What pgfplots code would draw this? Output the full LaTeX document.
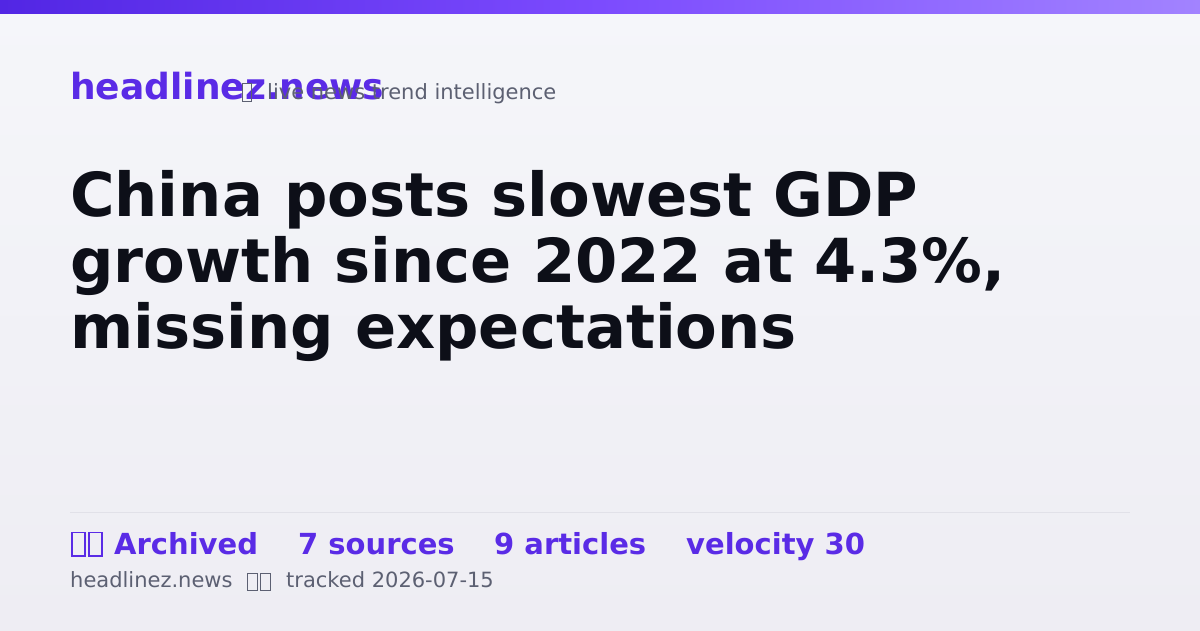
\documentclass[border=0pt]{standalone}
\usepackage{pgfplots}
\pgfplotsset{compat=1.18}
\usepackage{fontspec}
\setmainfont{DejaVu Sans}
\definecolor{bgtop}{HTML}{F5F6FA}
\definecolor{bgbot}{HTML}{EEEDF3}
\definecolor{barL}{HTML}{5226E4}
\definecolor{barM}{HTML}{7C4BFE}
\definecolor{barR}{HTML}{A283FF}
\definecolor{brand}{HTML}{5A2BE6}
\definecolor{ink}{HTML}{0D0F18}
\definecolor{muted}{HTML}{5C6072}
\definecolor{rulec}{HTML}{E1E1E8}
\begin{document}
\begin{tikzpicture}
\begin{axis}[
  width=1200pt, height=630pt, scale only axis,
  xmin=0, xmax=1200, ymin=0, ymax=630, y dir=reverse,
  hide axis, clip=false,
]
% background
\fill[top color=bgtop, bottom color=bgbot, draw=none] (axis cs:0,0) rectangle (axis cs:1200,630);
\fill[left color=barL, right color=barR, middle color=barM, draw=none] (axis cs:0,0) rectangle (axis cs:1200,13);
% brand line
\node[anchor=base west, inner sep=0pt, text=brand, font=\fontsize{36}{40}\selectfont\bfseries] at (axis cs:70,99) {headlinez.news};
\draw[muted, line width=1pt] (axis cs:242,83) rectangle (axis cs:251,101);
\node[anchor=base west, inner sep=0pt, text=muted, font=\fontsize{21}{24}\selectfont] at (axis cs:267,99) {live news trend intelligence};
% title
\node[anchor=base west, inner sep=0pt, text=ink, font=\fontsize{60.7}{66}\selectfont\bfseries] at (axis cs:70,216) {China posts slowest GDP};
\node[anchor=base west, inner sep=0pt, text=ink, font=\fontsize{60.7}{66}\selectfont\bfseries] at (axis cs:70,282) {growth since 2022 at 4.3\%,};
\node[anchor=base west, inner sep=0pt, text=ink, font=\fontsize{60.7}{66}\selectfont\bfseries] at (axis cs:70,348) {missing expectations};
% rule
\draw[rulec, line width=1pt] (axis cs:70,512.5) -- (axis cs:1130,512.5);
% stats row
\draw[brand, line width=1.4pt] (axis cs:72,532.5) rectangle (axis cs:85,556);
\draw[brand, line width=1.4pt] (axis cs:89,532.5) rectangle (axis cs:102,556);
\node[anchor=base west, inner sep=0pt, text=brand, font=\fontsize{29}{32}\selectfont\bfseries] at (axis cs:114,554) {Archived};
\node[anchor=base west, inner sep=0pt, text=brand, font=\fontsize{29}{32}\selectfont\bfseries] at (axis cs:298,554) {7 sources};
\node[anchor=base west, inner sep=0pt, text=brand, font=\fontsize{29}{32}\selectfont\bfseries] at (axis cs:494,554) {9 articles};
\node[anchor=base west, inner sep=0pt, text=brand, font=\fontsize{29}{32}\selectfont\bfseries] at (axis cs:686,554) {velocity 30};
% footer
\node[anchor=base west, inner sep=0pt, text=muted, font=\fontsize{21}{24}\selectfont] at (axis cs:70,587) {headlinez.news};
\draw[muted, line width=1pt] (axis cs:247.5,573) rectangle (axis cs:257.5,590);
\draw[muted, line width=1pt] (axis cs:260.5,573) rectangle (axis cs:270.5,590);
\node[anchor=base west, inner sep=0pt, text=muted, font=\fontsize{21}{24}\selectfont] at (axis cs:286,587) {tracked 2026-07-15};
\end{axis}
\end{tikzpicture}
\end{document}
